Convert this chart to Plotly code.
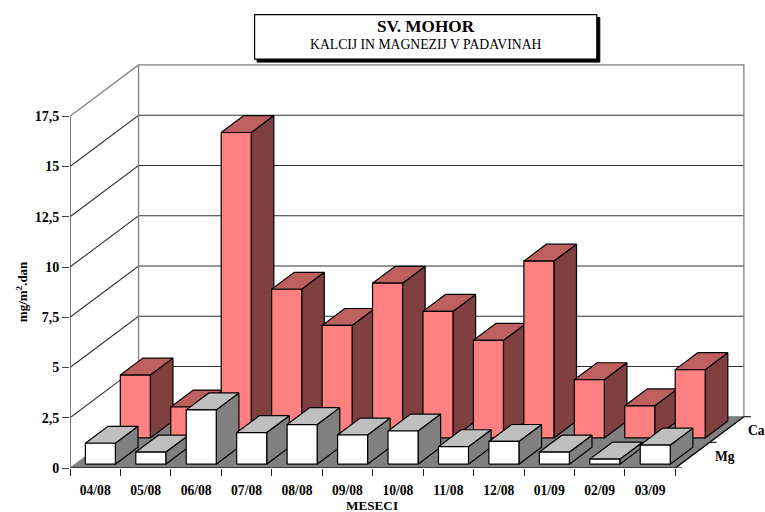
import plotly.graph_objects as go

categories = ["04/08", "05/08", "06/08", "07/08", "08/08", "09/08", "10/08", "11/08", "12/08", "01/09", "02/09", "03/09"]
ca_values = [3.13, 1.54, 15.2, 7.4, 5.6, 7.7, 6.3, 4.86, 8.8, 2.9, 1.6, 3.4]
mg_values = [1.04, 0.6, 2.7, 1.57, 1.97, 1.45, 1.65, 0.87, 1.13, 0.6, 0.25, 0.95]
y_ticks = [0, 2.5, 5, 7.5, 10, 12.5, 15, 17.5]
y_labels = ["0", "2,5", "5", "7,5", "10", "12,5", "15", "17,5"]

W, H = 765, 512
ML, MB, MT, MR = 70, 44.3, 55.9, 14.4
PW, PH = W - ML - MR, H - MT - MB
N = len(categories)
X_MAX, Y_MAX = 13.5, 20.5
DX, DY = 68.5 / (PW / X_MAX), 51.3 / (PH / Y_MAX)   # full floor depth in data units
BAR_W = 0.595
BAR_D = 0.33
FONT = "Liberation Serif"


def pj(x, v, d):
    return x + d * DX, v + d * DY


def poly(pts, fill=None, line="black", width=1.2, name=None, closed=True):
    xs = [p[0] for p in pts]
    ys = [p[1] for p in pts]
    if closed:
        xs.append(xs[0])
        ys.append(ys[0])
    return go.Scatter(
        x=xs, y=ys, mode="lines", fill="toself" if fill else None,
        fillcolor=fill, line=dict(color=line, width=width),
        hoverinfo="skip", showlegend=False, cliponaxis=False, name=name,
    )


def bar(i, v, d0, cols):
    x0 = i + (1 - BAR_W) / 2
    x1 = x0 + BAR_W
    d1 = d0 + BAR_D
    return [
        poly([pj(x1, 0, d0), pj(x1, 0, d1), pj(x1, v, d1), pj(x1, v, d0)], cols[2]),
        poly([pj(x0, v, d0), pj(x1, v, d0), pj(x1, v, d1), pj(x0, v, d1)], cols[1]),
        poly([pj(x0, 0, d0), pj(x1, 0, d0), pj(x1, v, d0), pj(x0, v, d0)], cols[0]),
    ]


traces = []
GRAY = "#808080"
TOP = y_ticks[-1]
# left and back wall gridlines
for t in y_ticks[1:-1]:
    traces.append(poly([pj(0, t, 0), pj(0, t, 1), pj(N, t, 1)], line="#333333", width=1.1, closed=False))
traces.append(poly([pj(0, TOP, 0), pj(0, TOP, 1), pj(N, TOP, 1), pj(N, 0, 1)], line=GRAY, width=1.3, closed=False))
traces.append(poly([pj(0, TOP, 1), pj(0, 0, 1)], line=GRAY, width=1.3, closed=False))
# floor
traces.append(poly([pj(0, 0, 0), pj(N, 0, 0), pj(N, 0, 1), pj(0, 0, 1)], GRAY, line=GRAY, width=1))
traces.append(poly([pj(N, 0, 0), pj(N, 0, 1)], line="black", width=1.3, closed=False))
# series
for i, v in enumerate(ca_values):
    traces += bar(i, v, 0.585, ("#FF8080", "#BF6060", "#804040"))
for i, v in enumerate(mg_values):
    traces += bar(i, v, 0.075, ("#FFFFFF", "#BFBFBF", "#808080"))
# axes lines in front
traces.append(poly([(0, 0), (N, 0)], line="#222222", width=1.6, closed=False))
traces.append(poly([(0, 0), (0, TOP)], line="#555555", width=1.6, closed=False))
# depth ticks
for d in (0, 0.5, 1):
    x, y = pj(N, 0, d)
    traces.append(poly([(x, y), (x + 7 / (PW / X_MAX), y)], line="#222222", width=1.2, closed=False))

fig = go.Figure(traces)


def ppx(x):
    return (x - ML) / PW


def ppy(y):
    return 1 - (y - MT) / PH


shapes = [
    dict(type="rect", xref="paper", yref="paper", x0=ppx(257), x1=ppx(599.5), y0=ppy(62), y1=ppy(17.5),
         fillcolor="black", line=dict(color="black", width=1)),
    dict(type="rect", xref="paper", yref="paper", x0=ppx(254.5), x1=ppx(596.5), y0=ppy(59), y1=ppy(14.5),
         fillcolor="white", line=dict(color="black", width=1.2)),
]


def note(text, x, y, size, bold=True, angle=0):
    return dict(xref="paper", yref="paper", x=ppx(x), y=ppy(y), text=f"<b>{text}</b>" if bold else text,
                showarrow=False, xanchor="center", yanchor="middle", textangle=angle,
                font=dict(family=FONT, size=size, color="black"))


fig.update_layout(
    width=W, height=H, paper_bgcolor="white", plot_bgcolor="white", showlegend=False,
    margin=dict(l=ML, r=MR, t=MT, b=MB, autoexpand=False),
    font=dict(family=FONT, color="black"),
    shapes=shapes,
    annotations=[
        note("SV. MOHOR", 425.5, 26.5, 17.2),
        note("KALCIJ IN MAGNEZIJ V PADAVINAH", 425.5, 44.5, 13.7, bold=False),
        note("Ca", 756.5, 430.7, 13.6),
        note("Mg", 724.5, 456.7, 13.6),
        note("MESECI", 372, 505, 13.2),
        note("mg/m<sup>2</sup>.dan", 22, 291, 13, angle=-90),
    ],
    xaxis=dict(
        range=[0, X_MAX], showgrid=False, zeroline=False, showline=False,
        tickmode="array", tickvals=[i + 0.5 for i in range(N)], ticktext=[f"<b>{c}</b>" for c in categories],
        ticks="outside", ticklen=0, tickwidth=0, tickfont=dict(family=FONT, size=13.6),
        ticklabelstandoff=10,
        minor=dict(tickmode="array", tickvals=list(range(N + 1)), ticks="outside", ticklen=7, tickwidth=1.2, tickcolor="#222222", showgrid=False),
        automargin=False,
    ),
    yaxis=dict(
        range=[0, Y_MAX], showgrid=False, zeroline=False, showline=False,
        tickmode="array", tickvals=y_ticks, ticktext=[f"<b>{s}</b>" for s in y_labels],
        ticks="outside", ticklen=7, tickwidth=1.2, tickcolor="#444444",
        tickfont=dict(family=FONT, size=14),
        automargin=False,
    ),
)

fig.write_html("out.html", config={"displayModeBar": False},
               post_script="document.body.style.margin='0';document.documentElement.style.overflow='hidden';")
